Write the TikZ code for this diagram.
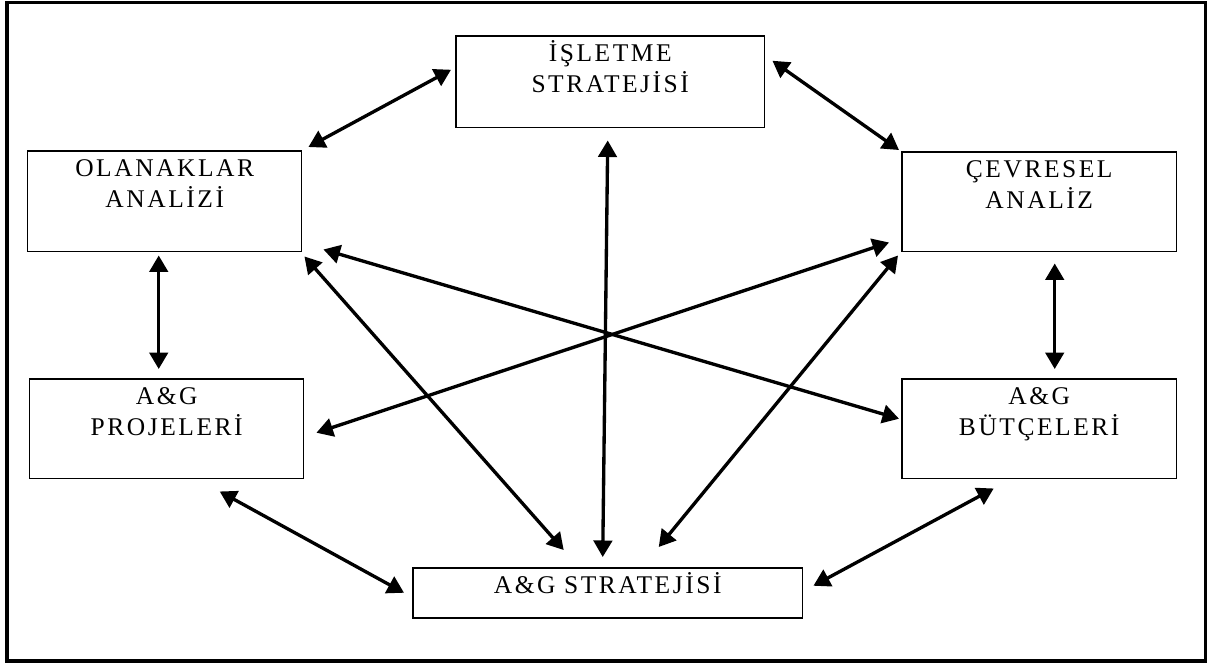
\documentclass[tikz,border=0pt]{standalone}
\usepackage{fontspec}
\setmainfont{Liberation Serif}[LetterSpace=10]
\usetikzlibrary{arrows.meta,calc}

\begin{document}
\begin{tikzpicture}[x=0.02cm,y=-0.02cm,
        font=\fontsize{14.5}{17.6}\selectfont,
        >={Triangle[length=0.33cm,width=0.37cm]},
        kutu/.style={draw,line width=0.85pt,inner sep=0pt,anchor=north west,
            align=center,text height=0.52cm},
        ok/.style={<->,line width=1.9pt},
    ]
    \useasboundingbox (0,0) rectangle (1216,664);
    \draw[line width=2pt] (7,2.5) rectangle (1205.5,661);
    % kutular
    \node[kutu,text width=6.18cm,text depth=1.32cm] (isl) at (455,35) {İŞLETME\\STRATEJİSİ};
    \node[kutu,text width=5.48cm,text depth=1.50cm] (ola) at (27,150) {OLANAKLAR\\ANALİZİ};
    \node[kutu,text width=5.50cm,text depth=1.48cm] (cev) at (901,151) {ÇEVRESEL\\ANALİZ};
    \node[kutu,text width=5.48cm,text depth=1.48cm] (pro) at (29,378) {A\&G\\PROJELERİ};
    \node[kutu,text width=5.50cm,text depth=1.48cm] (but) at (901,378) {A\&G\\BÜTÇELERİ};
    \node[kutu,text width=7.80cm,text depth=0.48cm] (ags) at (412,567) {A\&G STRATEJİSİ};
    % oklar
    \draw[ok] ($(ola.north east)+(6,-3)$) -- ($(isl.west)+(-4,-12)$);
    \draw[ok] ($(isl.east)+(7,-21)$) -- ($(cev.north west)+(-2,-1)$);
    \draw[ok] ($(isl.south)+(-2.5,12)$) -- ($(ags.north)+(-5,-10)$);
    \draw[ok] ($(ola.south)+(-6,3)$) -- ($(pro.north)+(-8,-9)$);
    \draw[ok] ($(cev.south)+(15.5,11)$) -- ($(but.north)+(15.5,-9)$);
    \draw[ok] ($(pro.south)+(53,12)$) -- ($(ags.west)+(-8,0)$);
    \draw[ok] ($(but.south)+(-45.5,9)$) -- ($(ags.east)+(10,-7)$);
    \draw[ok] ($(ola.south east)+(2,4)$) -- ($(ags.north)+(-44,-17)$);
    \draw[ok] ($(cev.south west)+(-3,3)$) -- ($(ags.north)+(51,-20)$);
    \draw[ok] ($(ola.south east)+(21,-3)$) -- ($(but.west)+(-2,-10)$);
    \draw[ok] ($(cev.south west)+(-12,-10)$) -- ($(pro.east)+(12,4)$);
\end{tikzpicture}
\end{document}
